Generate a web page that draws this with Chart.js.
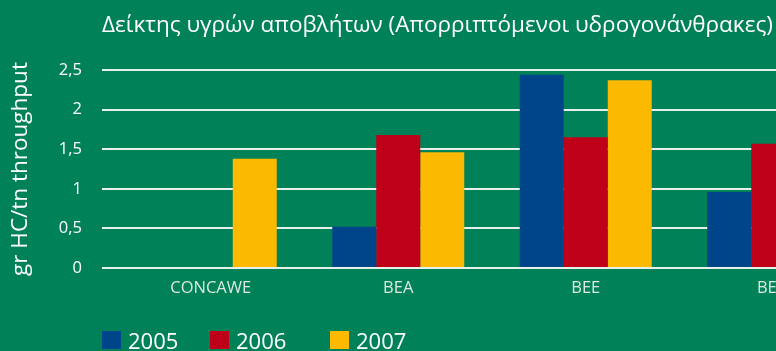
<!DOCTYPE html>
<html>
<head>
<meta charset="utf-8">
<script src="https://cdn.jsdelivr.net/npm/chart.js@4/dist/chart.umd.min.js"></script>
<style>
    html, body { margin: 0; padding: 0; background: #008157; overflow: hidden; }
    #wrap { position: relative; width: 870px; height: 351px; }
</style>
</head>
<body>
<div id="wrap"><canvas id="chart-js"></canvas></div>
<script>
const titleText = 'Δείκτης υγρών αποβλήτων (Απορριπτόμενοι υδρογονάνθρακες)';
const yTitle = 'gr HC/tn throughput';
const categories = ['CONCAWE', 'BEA', 'BEE', 'BEΘ'];
const years = ['2005', '2006', '2007'];
const values2005 = [null, 0.52, 2.44, 0.96];
const values2006 = [null, 1.68, 1.65, 1.57];
const values2007 = [1.38, 1.46, 2.37, null]; // last bar is cut off in the picture
const yTicks = [0, 0.5, 1, 1.5, 2, 2.5];
const colors = ['#00458a', '#bf0019', '#fbba00'];

const FONT = '"Open Sans", "Noto Sans", sans-serif';

// title + legend drawn by hand so they sit where the original has them
const extras = {
    id: 'extras',
    afterDraw(chart) {
        const ctx = chart.ctx;
        ctx.save();
        ctx.fillStyle = '#ffffff';
        ctx.textBaseline = 'alphabetic';
        ctx.textAlign = 'left';
        ctx.font = '22.5px ' + FONT;
        ctx.fillText(titleText, 102, 32);

        const legendX = [102, 210, 330];
        ctx.font = '22px ' + FONT;
        chart.data.datasets.forEach((ds, i) => {
            ctx.fillStyle = ds.backgroundColor;
            ctx.fillRect(legendX[i], 331, 19, 18);
            ctx.fillStyle = '#ffffff';
            ctx.fillText(ds.label, legendX[i] + 26, 349);
        });
        ctx.restore();
    }
};

const data = {
    labels: categories,
    datasets: [
        { label: years[0], data: values2005, backgroundColor: colors[0] },
        { label: years[1], data: values2006, backgroundColor: colors[1] },
        { label: years[2], data: values2007, backgroundColor: colors[2] },
    ]
};

const config = {
    type: 'bar',
    data: data,
    plugins: [extras],
    options: {
        responsive: true,
        maintainAspectRatio: false,
        animation: false,
        layout: { padding: { top: 70, right: 3, bottom: 0, left: 0 } },
        datasets: {
            bar: { barPercentage: 1, categoryPercentage: 0.704 }
        },
        plugins: {
            legend: { display: false },
            title: { display: false },
            tooltip: { enabled: false }
        },
        scales: {
            x: {
                grid: { display: false },
                border: { display: false },
                ticks: {
                    color: '#dce9e2',
                    font: { family: FONT, size: 16.5 },
                    padding: 2,
                    maxRotation: 0,
                    autoSkip: false
                },
                afterFit: (scale) => { scale.height = 83; }
            },
            y: {
                min: 0,
                max: 2.5,
                afterBuildTicks: (scale) => { scale.ticks = yTicks.map(v => ({ value: v })); },
                grid: { color: '#e6efea', lineWidth: 2, tickLength: 15 },
                border: { display: false },
                ticks: {
                    color: '#ffffff',
                    font: { family: FONT, size: 16.5 },
                    padding: 20,
                    callback: (v) => String(v).replace('.', ',')
                },
                title: {
                    display: true,
                    text: yTitle,
                    color: '#ffffff',
                    font: { family: FONT, size: 22.5 },
                    padding: { top: 7, bottom: 0 }
                },
                afterFit: (scale) => { scale.width = 117; }
            }
        }
    }
};

const chart = new Chart(document.getElementById('chart-js'), config);
</script>
</body>
</html>
